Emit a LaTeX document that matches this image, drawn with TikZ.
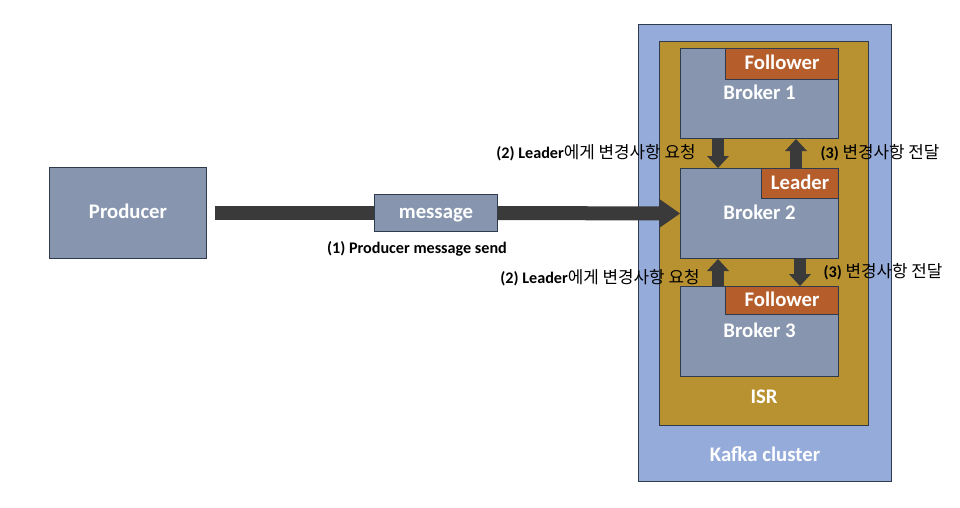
\documentclass[tikz,border=0pt]{standalone}
\usepackage{fontspec}
\setmainfont{Carlito}
\newfontfamily\krfont{Noto Sans CJK KR}
\usetikzlibrary{arrows.meta, positioning}

\definecolor{clusterblue}{HTML}{95ABD9}
\definecolor{isrgold}{HTML}{B89131}
\definecolor{brokergray}{HTML}{8796AE}
\definecolor{tagorange}{HTML}{B65E2B}
\definecolor{arrowgray}{HTML}{3A3A3A}
\definecolor{edgedark}{HTML}{2F3B4D}

\newcommand{\kr}[1]{{\krfont\mdseries\fontsize{12}{14}\selectfont #1}}

\begin{document}
\begin{tikzpicture}[x=0.025cm, y=-0.025cm,
    box/.style={draw=edgedark, line width=0.7pt, align=center, text=white, inner sep=0pt, text height=1.75ex, text depth=0ex, font=\bfseries\fontsize{14.75}{17}\selectfont},
    clusterbox/.style={box, fill=clusterblue, minimum width=6.325cm, minimum height=11.425cm, anchor=north west},
    isrbox/.style={box, fill=isrgold, minimum width=5.225cm, minimum height=9.6cm, anchor=north west},
    broker/.style={box, fill=brokergray, minimum width=3.95cm, minimum height=2.25cm, anchor=north west},
    clientbox/.style={box, fill=brokergray, minimum width=3.9cm, minimum height=2.275cm},
    msgbox/.style={box, fill=brokergray, minimum width=3.05cm, minimum height=0.925cm},
    tag/.style={box, fill=tagorange, anchor=north east},
    panellabel/.style={text=white, font=\bfseries\fontsize{14.75}{17}\selectfont},
    steplabel/.style={text=black, inner sep=0pt, font=\bfseries\fontsize{11.5}{14}\selectfont},
    bigline/.style={draw=arrowgray, line width=0.35cm},
    bigarrow/.style={bigline, -{Triangle[length=0.5cm, width=0.7cm, line width=0pt]}},
    smallarrow/.style={draw=arrowgray, line width=0.3cm, -{Triangle[length=0.3cm, width=0.55cm, line width=0pt]}}
]
    \useasboundingbox (0,0) rectangle (960,507);

    % cluster and ISR frames
    \node[clusterbox] (cluster) at (638,24) {};
    \node[isrbox] (isr) at (659,41) {};
    \node[panellabel] (isrname) at (764,397) {ISR};
    \node[panellabel] (clustername) at (765,454) {Kafka cluster};

    % brokers with their role tags
    \node[broker] (b1) at (680,48) {Broker 1};
    \node[broker] (b2) at (680,168) {Broker 2};
    \node[broker] (b3) at (680,286) {Broker 3};
    \node[tag, minimum width=2.825cm, minimum height=0.775cm] (t1) at (b1.north east) {Follower};
    \node[tag, minimum width=1.925cm, minimum height=0.75cm] (t2) at (b2.north east) {Leader};
    \node[tag, minimum width=2.825cm, minimum height=0.7cm] (t3) at (b3.north east) {Follower};

    % producer side
    \node[clientbox] (producer) at (128,213) {Producer};
    \node[msgbox] (message) at (436,213) {message};

    \draw[bigline, shorten <=0.2cm] (producer.east) -- (message.west);
    \draw[bigarrow] (message.east) -- (b2.west);

    \draw[smallarrow] ([xshift=0.95cm]b1.south west) -- ([xshift=0.95cm]b2.north west);
    \draw[smallarrow] ([xshift=-1.075cm]b2.north east) -- ([xshift=-1.075cm]b1.south east);
    \draw[smallarrow] ([xshift=0.95cm]b3.north west) -- ([xshift=0.95cm]b2.south west);
    \draw[smallarrow] ([xshift=-0.975cm]b2.south east) -- ([xshift=-0.975cm]b3.north east);

    \node[steplabel] (send) at (417,249) {(1) Producer message send};
    \node[steplabel] (ask1) at (596,153) {(2) Leader\kr{에게 변경사항 요청}};
    \node[steplabel] (pass1) at (880,153) {(3) \kr{변경사항 전달}};
    \node[steplabel] (ask2) at (600,278) {(2) Leader\kr{에게 변경사항 요청}};
    \node[steplabel] (pass2) at (883,272) {(3) \kr{변경사항 전달}};
\end{tikzpicture}
\end{document}
